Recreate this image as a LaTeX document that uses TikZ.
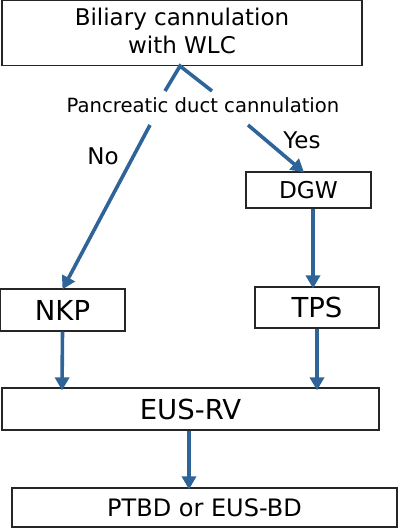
\documentclass[tikz,border=0pt]{standalone}
\usepackage{fontspec}
\setmainfont{DejaVu Sans}
\usetikzlibrary{arrows.meta}
\definecolor{arrowblue}{RGB}{46,100,152}
\tikzset{
  box/.style={draw=black!85, line width=1.2pt, rectangle, inner sep=0pt, align=center},
  flow/.style={draw=arrowblue, line width=3.6pt, -{Triangle[width=14pt,length=13pt]}},
  plainline/.style={draw=arrowblue, line width=3.6pt},
  lbl/.style={inner sep=0pt, align=center}
}
\begin{document}
\begin{tikzpicture}[x=1pt,y=-1pt]
\useasboundingbox (0,0) rectangle (400,528);
\node[box, minimum width=360pt, minimum height=65pt] (top) at (182,33) {};
\node[lbl, font=\fontsize{23}{28}\selectfont] (toptext) at (182,30.5) {Biliary cannulation\\with WLC};
\node[lbl, font=\fontsize{19.6}{22}\selectfont] (pdc) at (203,105) {Pancreatic duct cannulation};
\node[lbl, font=\fontsize{23}{26}\selectfont] (no) at (103,156) {No};
\node[lbl, font=\fontsize{23}{26}\selectfont] (yes) at (302,140) {Yes};
\node[box, minimum width=125pt, minimum height=36pt, font=\fontsize{23.2}{26}\selectfont] (dgw) at (308.5,190) {DGW};
\node[box, minimum width=124pt, minimum height=41pt, font=\fontsize{27.5}{30}\selectfont] (tps) at (317,307.5) {TPS};
\node[box, minimum width=125pt, minimum height=42pt, font=\fontsize{27.5}{30}\selectfont] (nkp) at (62.5,310) {NKP};
\node[box, minimum width=377pt, minimum height=42pt, font=\fontsize{27.5}{30}\selectfont] (eus) at (190.5,409) {EUS-RV};
\node[box, minimum width=385pt, minimum height=39pt, font=\fontsize{24}{26}\selectfont] (ptbd) at (204.5,507.5) {PTBD or EUS-BD};
\coordinate (apex) at (180,66);
\coordinate (vl) at (165,91);
\coordinate (vr) at (212,91);
\coordinate (nostart) at (150,125);
\coordinate (yesstart) at (248,125);
\draw[plainline] (vl) -- (apex) -- (vr);
\draw[flow] (nostart) -- ([yshift=-1pt]nkp.north);
\draw[flow] (yesstart) -- ([yshift=-1pt]dgw.north -| 304,0);
\draw[flow] (dgw.south -| 313,0) -- ([yshift=-2pt]tps.north -| 313,0);
\draw[flow] (nkp.south) -- ([yshift=-3pt]eus.north -| 62,0);
\draw[flow] (tps.south) -- ([yshift=-3pt]eus.north -| 317,0);
\draw[flow] (eus.south -| 189,0) -- ([yshift=-2pt]ptbd.north -| 189,0);
\end{tikzpicture}
\end{document}
